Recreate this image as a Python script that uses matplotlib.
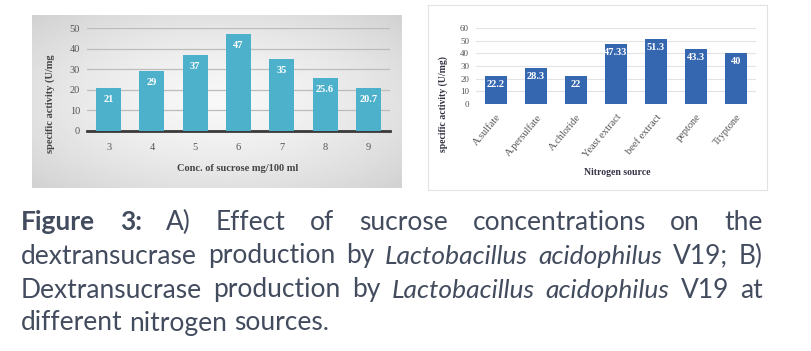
import matplotlib
matplotlib.use('Agg')
import matplotlib.pyplot as plt
import numpy as np

# panel A data
sucrose = ['3', '4', '5', '6', '7', '8', '9']
sucrose_activity = [21, 29, 37, 47, 35, 25.6, 20.7]
sucrose_labels = ['21', '29', '37', '47', '35', '25.6', '20.7']

# panel B data
nitrogen = ['A.sulfate', 'A.persulfate', 'A.chloride', 'Yeast extract',
            'beef extract', 'peptone', 'Tryptone']
nitrogen_activity = [22.2, 28.3, 22, 47.33, 51.3, 43.3, 40]
nitrogen_labels = ['22.2', '28.3', '22', '47.33', '51.3', '43.3', '40']

caption_lines = [
    [('Figure', 'b'), ('3:', 'b'), ('A)', 'n'), ('Effect', 'n'), ('of', 'n'), ('sucrose', 'n'),
     ('concentrations', 'n'), ('on', 'n'), ('the', 'n')],
    [('dextransucrase', 'n'), ('production', 'n'), ('by', 'n'), ('Lactobacillus', 'i'),
     ('acidophilus', 'i'), ('V19;', 'n'), ('B)', 'n')],
    [('Dextransucrase', 'n'), ('production', 'n'), ('by', 'n'), ('Lactobacillus', 'i'),
     ('acidophilus', 'i'), ('V19', 'n'), ('at', 'n')],
    [('different', 'n'), ('nitrogen', 'n'), ('sources.', 'n')],
]

W, H = 811, 351
fig = plt.figure(figsize=(W / 100, H / 100), dpi=100)
fig.patch.set_facecolor('white')

def box(x0, y0, x1, y1):
    # pixel box (top-left origin) -> figure fraction rect
    return [x0 / W, 1 - y1 / H, (x1 - x0) / W, (y1 - y0) / H]

serif = 'Liberation Serif'

# ---------- panel A background (grey radial gradient)
bg = fig.add_axes(box(32, 15, 402, 188))
yy, xx = np.mgrid[-1:1:200j, -1:1:400j]
r = np.sqrt(xx ** 2 + yy ** 2) / np.sqrt(2)
bg.imshow(0.97 - 0.15 * r ** 1.5, cmap='gray', vmin=0, vmax=1, aspect='auto',
          extent=[0, 1, 0, 1])
bg.axis('off')

ax1 = fig.add_axes(box(87, 28, 390, 131))
ax1.patch.set_alpha(0)
x1 = np.arange(len(sucrose))
ax1.bar(x1, sucrose_activity, width=0.58, color='#4eb1cb', zorder=3)
ax1.set_ylim(0, 50)
ax1.set_xlim(-0.5, len(sucrose) - 0.5)
ax1.set_yticks(range(0, 51, 10))
ax1.yaxis.grid(True, color='#bcbcbc', lw=0.9, zorder=0)
for s in ['top', 'right', 'left']:
    ax1.spines[s].set_visible(False)
ax1.spines['bottom'].set_color('#3a3a3a')
ax1.spines['bottom'].set_linewidth(2)
ax1.tick_params(length=0, labelsize=7.5, colors='#555555', pad=5)
ax1.tick_params(axis='x', pad=9)
ax1.set_xticks(x1)
ax1.set_xticklabels(sucrose, fontfamily=serif)
for lab in ax1.get_yticklabels():
    lab.set_fontfamily(serif)
for i, v in enumerate(sucrose_activity):
    ax1.text(i, v - 5.5, sucrose_labels[i], ha='center', va='center', color='white',
             fontsize=7.5, fontweight='bold', fontfamily=serif, zorder=4)
fig.text(238 / W, 1 - 168 / H, 'Conc. of sucrose mg/100 ml', ha='center', va='center',
         fontsize=7.5, fontweight='bold', fontfamily=serif, color='#444444')
fig.text(50 / W, 1 - 104 / H, 'specific activity (U/mg', ha='center', va='center',
         rotation=90, fontsize=7.5, fontweight='bold', fontfamily=serif, color='#444444')

# ---------- panel B
frame = fig.add_axes(box(428, 5, 767, 190))
frame.set_xticks([])
frame.set_yticks([])
for s in frame.spines.values():
    s.set_color('#e2e2e2')
    s.set_linewidth(0.8)

ax2 = fig.add_axes(box(476, 28, 756, 104))
ax2.patch.set_alpha(0)
x2 = np.arange(len(nitrogen))
ax2.bar(x2, nitrogen_activity, width=0.53, color='#3566b0', zorder=3)
ax2.set_ylim(0, 60)
ax2.set_xlim(-0.5, len(nitrogen) - 0.5)
ax2.set_yticks(range(0, 61, 10))
ax2.yaxis.grid(True, color='#e3e3e3', lw=0.8, zorder=0)
for s in ax2.spines.values():
    s.set_visible(False)
ax2.tick_params(length=0, labelsize=6.5, colors='#555555', pad=5)
ax2.tick_params(axis='x', labelsize=7.5, pad=6)
ax2.set_xticks(x2)
ax2.set_xticklabels(nitrogen, rotation=50, ha='right', rotation_mode='anchor',
                    fontfamily=serif)
for lab in ax2.get_yticklabels():
    lab.set_fontfamily(serif)
for i, v in enumerate(nitrogen_activity):
    ax2.text(i, v - 6.5, nitrogen_labels[i], ha='center', va='center', color='white',
             fontsize=7.5, fontweight='bold', fontfamily=serif, zorder=4)
fig.text(617 / W, 1 - 173 / H, 'Nitrogen source', ha='center', va='center',
         fontsize=7, fontweight='bold', fontfamily=serif, color='#333344')
fig.text(443 / W, 1 - 104 / H, 'specific activity (U/mg)', ha='center', va='center',
         rotation=90, fontsize=7, fontweight='bold', fontfamily=serif, color='#333344')

# ---------- caption, justified
cap_family = ['Lato', 'DejaVu Sans']
cap_size = 19
cap_color = '#434c5e'
left, right = 21, 763
line_y = [222, 256, 290, 323]
renderer = fig.canvas.get_renderer()

def style_kw(st):
    return dict(fontweight='bold' if st == 'b' else 'normal',
                fontstyle='italic' if st == 'i' else 'normal')

for li, words in enumerate(caption_lines):
    widths = []
    for w, st in words:
        t = fig.text(0, 0, w, fontsize=cap_size, family=cap_family, **style_kw(st))
        widths.append(t.get_window_extent(renderer).width)
        t.remove()
    last = li == len(caption_lines) - 1
    if last:
        sp = cap_size * 0.35
    else:
        sp = (right - left - sum(widths)) / (len(words) - 1)
    x = left
    for (w, st), wd in zip(words, widths):
        fig.text(x / W, 1 - line_y[li] / H, w, ha='left', va='center', fontsize=cap_size,
                 family=cap_family, color=cap_color, **style_kw(st))
        x += wd + sp

fig.savefig('out.png', dpi=100)
